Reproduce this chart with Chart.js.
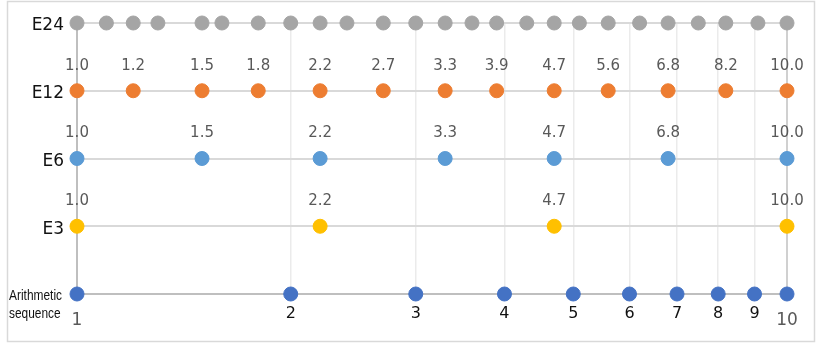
<!DOCTYPE html>
<html>
<head>
<meta charset="utf-8">
<script src="https://cdn.jsdelivr.net/npm/chart.js@4"></script>
<style>
  html, body { margin: 0; padding: 0; background: #fff; }
  canvas { display: block; }
</style>
</head>
<body>
<canvas id="seriesChart" width="821" height="344"></canvas>
<script>
// ================= DATA =================
const e24Values = [1.0, 1.1, 1.2, 1.3, 1.5, 1.6, 1.8, 2.0, 2.2, 2.4, 2.7, 3.0, 3.3, 3.6, 3.9, 4.3, 4.7, 5.1, 5.6, 6.2, 6.8, 7.5, 8.2, 9.1, 10.0];
const e12Values = [1.0, 1.2, 1.5, 1.8, 2.2, 2.7, 3.3, 3.9, 4.7, 5.6, 6.8, 8.2, 10.0];
const e6Values = [1.0, 1.5, 2.2, 3.3, 4.7, 6.8, 10.0];
const e3Values = [1.0, 2.2, 4.7, 10.0];
const arithValues = [1, 2, 3, 4, 5, 6, 7, 8, 9, 10];

const rowNames = ["Arithmetic sequence", "E3", "E6", "E12", "E24"];
const xTickValues = [1, 2, 3, 4, 5, 6, 7, 8, 9, 10];

const seriesColors = ["#4472c4", "#ffc000", "#5b9bd5", "#ed7d31", "#a5a5a5"];

// ================= HELPERS =================
const toPoints = (values, row) => values.map(v => ({ x: v, y: row }));

function makeDataset(name, values, row) {
    return {
        label: name,
        data: toPoints(values, row),
        backgroundColor: seriesColors[row],
        borderColor: seriesColors[row],
        pointRadius: 7,
        pointHoverRadius: 7,
        showLine: false,
        clip: false
    };
}

// ================= PLUGINS =================
const frame = {
    id: "frame",
    beforeDraw(chart) {
        const c = chart.ctx;
        c.save();
        c.fillStyle = "#fff";
        c.fillRect(0, 0, chart.width, chart.height);
        c.strokeStyle = "#d9d9d9";
        c.lineWidth = 1.5;
        c.strokeRect(7.5, 1.5, 807, 340);
        c.restore();
    }
};

const labels = {
    id: "labels",
    afterDatasetsDraw(chart) {
        const c = chart.ctx;
        const x = chart.scales.x;
        const y = chart.scales.y;
        c.save();

        // value labels above E3 / E6 / E12 points
        c.font = "15px 'DejaVu Sans'";
        c.fillStyle = "#595959";
        c.textAlign = "center";
        c.textBaseline = "middle";
        [[e3Values, 1], [e6Values, 2], [e12Values, 3]].forEach(([vals, row]) => {
            vals.forEach(v => {
                c.fillText(v.toFixed(1), x.getPixelForValue(v), y.getPixelForValue(row) - 25);
            });
        });

        // arithmetic labels below (2..9), 1 and 10 come from the axis
        c.font = "16px 'DejaVu Sans'";
        c.fillStyle = "#111";
        arithValues.slice(1, -1).forEach(v => {
            c.fillText(String(v), x.getPixelForValue(v), y.getPixelForValue(0) + 20);
        });

        // row names
        c.font = "17px 'DejaVu Sans'";
        c.fillStyle = "#111";
        c.textAlign = "right";
        for (let row = 1; row < rowNames.length; row++) {
            c.fillText(rowNames[row], 64, y.getPixelForValue(row) + 3);
        }

        // two-line narrow label for the arithmetic row
        const words = rowNames[0].split(" ");
        c.font = "15px 'Liberation Sans', Arial";
        c.textAlign = "left";
        const sx = 53 / c.measureText(words[0]).width;
        const y0 = y.getPixelForValue(0);
        c.translate(9, 0);
        c.scale(sx, 1);
        c.fillText(words[0], 0, y0 + 2);
        c.fillText(words[1], 0, y0 + 20);

        c.restore();
    }
};

// ================= CHART =================
const ctx = document.getElementById("seriesChart").getContext("2d");

new Chart(ctx, {
    type: "scatter",
    data: {
        datasets: [
            makeDataset("E24", e24Values, 4),
            makeDataset("E12", e12Values, 3),
            makeDataset("E6", e6Values, 2),
            makeDataset("E3", e3Values, 1),
            makeDataset("Arithmetic sequence", arithValues, 0)
        ]
    },
    plugins: [frame, labels],
    options: {
        responsive: false,
        animation: false,
        layout: { padding: { top: 23, right: 34, left: 0, bottom: 0 } },
        plugins: {
            legend: { display: false },
            tooltip: { enabled: false }
        },
        scales: {
            x: {
                type: "logarithmic",
                min: 1,
                max: 10,
                afterBuildTicks: (scale) => {
                    scale.ticks = xTickValues.map(v => ({ value: v }));
                },
                afterFit: (scale) => { scale.height = 50; },
                border: { display: false },
                grid: {
                    drawTicks: false,
                    color: (c) => c.tick.value === 1 ? "#bfbfbf" : c.tick.value === 10 ? "#d0d0d0" : "#ebebeb",
                    lineWidth: (c) => (c.tick.value === 1 || c.tick.value === 10) ? 2 : 1.5
                },
                ticks: {
                    autoSkip: false,
                    maxRotation: 0,
                    padding: 16,
                    color: "#595959",
                    font: { family: "DejaVu Sans", size: 17 },
                    callback: (v) => (v === 1 || v === 10) ? String(v) : ""
                }
            },
            y: {
                min: 0,
                max: 4,
                afterFit: (scale) => { scale.width = 77; },
                border: { display: false },
                grid: {
                    drawTicks: false,
                    color: (c) => c.tick.value === 0 ? "#bfbfbf" : "#d9d9d9",
                    lineWidth: 2
                },
                ticks: {
                    stepSize: 1,
                    display: false
                }
            }
        }
    }
});
</script>
</body>
</html>
